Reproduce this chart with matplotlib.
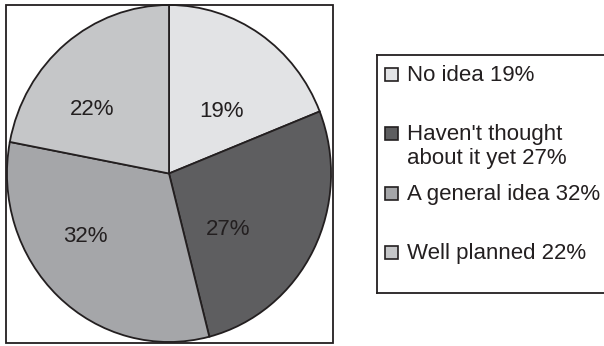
import matplotlib.pyplot as plt
from matplotlib.patches import Rectangle

plt.rcParams['font.family'] = ['Liberation Sans', 'DejaVu Sans']

# data
labels = ["No idea", "Haven't thought\nabout it yet", "A general idea", "Well planned"]
shares = [19, 27, 32, 22]
colors = ["#e2e3e5", "#5e5e60", "#a5a6a9", "#c5c6c8"]

ink = "#231f20"
W, H = 604, 346
fig = plt.figure(figsize=(W / 100, H / 100), dpi=100)

# pie box (pixel layout)
bx0, by0, bx1, by1 = 6, 5, 333, 343
ax = fig.add_axes([bx0 / W, 1 - by1 / H, (bx1 - bx0) / W, (by1 - by0) / H])
wedges, texts, autotexts = ax.pie(
    shares, colors=colors, startangle=90, counterclock=False,
    autopct="%d%%", pctdistance=0.55,
    wedgeprops=dict(edgecolor=ink, linewidth=1.3),
    textprops=dict(color=ink, fontsize=16),
)
ax.set_aspect("auto")
ax.set_xlim(-1.006, 1.012)
ax.set_ylim(-1.006, 1.0)

# small pixel nudges so labels sit where the original has them
nudges = [(2, 15), (-20, 14), (-23, -5), (-20, 7)]
for t, (dx, dy) in zip(autotexts, nudges):
    x, y = t.get_position()
    t.set_position((x + dx / 162, y - dy / 168.5))

fig.add_artist(Rectangle((bx0 / W, 1 - by1 / H), (bx1 - bx0) / W, (by1 - by0) / H,
                         transform=fig.transFigure, fill=False,
                         edgecolor=ink, linewidth=1.3))

# legend box drawn by hand (uneven spacing in original)
lx0, ly0, ly1 = 377, 55, 293
lax = fig.add_axes([lx0 / W, 1 - ly1 / H, (W - lx0 + 5) / W, (ly1 - ly0) / H])
lax.set_xlim(0, W - lx0 + 5)
lax.set_ylim(ly1 - ly0, 0)
lax.set_xticks([])
lax.set_yticks([])
for s in lax.spines.values():
    s.set_color(ink)
    s.set_linewidth(1.3)

rows_y = [19, 78, 138, 197]
for lab, val, col, y in zip(labels, shares, colors, rows_y):
    lax.add_patch(Rectangle((8, y - 6.5), 13, 13, facecolor=col,
                            edgecolor=ink, linewidth=1.2))
    lax.text(30, y - 9, f"{lab} {val}%", fontsize=16, color=ink,
             va="top", ha="left", linespacing=1.2)

fig.savefig("out.png", dpi=100)
